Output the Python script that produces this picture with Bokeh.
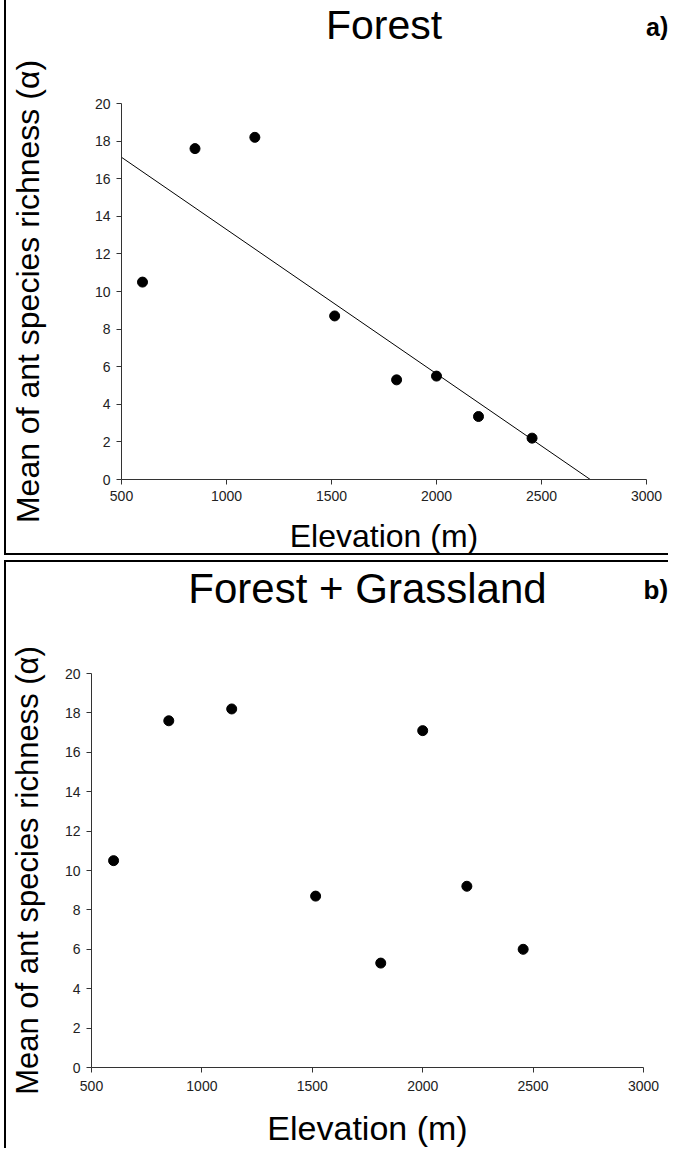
import numpy as np
from bokeh.plotting import figure
from bokeh.models import Range1d, FixedTicker, LinearAxis
from bokeh.embed import file_html
from bokeh.resources import INLINE

# ---- data ----
elevation = [600, 850, 1135, 1515, 1810, 2000, 2200, 2455]
richness_forest = [10.5, 17.6, 18.2, 8.7, 5.3, 5.5, 3.35, 2.2]
richness_forest_grass = [10.5, 17.6, 18.2, 8.7, 5.3, 17.1, 9.2, 6.0]
x_ticks = [500, 1000, 1500, 2000, 2500, 3000]
y_ticks = [0, 2, 4, 6, 8, 10, 12, 14, 16, 18, 20]
titles = ["Forest", "Forest + Grassland"]
panel_tags = ["a)", "b)"]
x_label = "Elevation (m)"
y_label = "Mean of ant species richness (\u03b1)"

FONT = "Liberation Sans"
AX = "#333333"


def make_panel(title, tag, yvals, width, height, mb, cfg, styles, fit=False):
    p = figure(width=width, height=height, output_backend="svg", toolbar_location=None,
               x_range=Range1d(500, 3000), y_range=Range1d(0, 20),
               min_border_left=mb[0], min_border_right=mb[1],
               min_border_top=mb[2], min_border_bottom=mb[3],
               styles=styles)
    p.outline_line_color = None
    p.grid.visible = False
    p.background_fill_color = "white"
    p.border_fill_color = "white"

    xa = p.below[0]
    ya = p.left[0]
    for ax in (xa, ya):
        ax.axis_line_color = AX
        ax.axis_line_width = 1
        ax.major_tick_line_color = AX
        ax.major_tick_out = 5
        ax.major_tick_in = 0
        ax.minor_tick_line_color = None
        ax.major_label_text_font = FONT
        ax.major_label_text_font_size = "14px"
        ax.major_label_text_color = "#222222"
        ax.axis_label_text_font = FONT
        ax.axis_label_text_font_style = "normal"
        ax.axis_label_text_color = "black"
    xa.ticker = FixedTicker(ticks=x_ticks)
    ya.ticker = FixedTicker(ticks=y_ticks)
    xa.axis_label = x_label
    ya.axis_label = y_label
    xa.axis_label_text_font_size = cfg["xlab_size"]
    ya.axis_label_text_font_size = cfg["ylab_size"]
    xa.major_label_standoff = cfg["xtick_standoff"]
    ya.major_label_standoff = 6
    xa.axis_label_standoff = cfg["xlab_standoff"]
    ya.axis_label_standoff = cfg["ylab_standoff"]

    # title (axis label) and panel tag (tick label) on an unlined top axis
    top = LinearAxis(ticker=FixedTicker(ticks=[3000]),
                     major_label_overrides={3000: tag},
                     axis_label=title)
    top.axis_line_color = None
    top.major_tick_line_color = None
    top.minor_tick_line_color = None
    top.major_tick_out = 0
    top.major_tick_in = 0
    top.major_label_orientation = 1e-4
    top.major_label_text_font = FONT
    top.major_label_text_font_size = cfg["tag_size"]
    top.major_label_text_font_style = "bold"
    top.major_label_text_color = "black"
    top.major_label_standoff = cfg["tag_standoff"]
    top.axis_label_text_font = FONT
    top.axis_label_text_font_size = cfg["title_size"]
    top.axis_label_text_font_style = "normal"
    top.axis_label_text_color = "black"
    top.axis_label_standoff = cfg["title_standoff"]
    p.add_layout(top, "above")

    if fit:
        slope, intercept = np.polyfit(elevation, yvals, 1)
        x0 = 500.0
        x1 = -intercept / slope
        p.line([x0, x1], [slope * x0 + intercept, 0.0], line_color="black", line_width=1)

    p.scatter(elevation, yvals, size=10, color="black")
    return p


style_top = {"border-left": "2px solid black", "border-top": "2px solid black",
             "border-bottom": "2px solid black", "margin-left": "4px",
             "margin-top": "-3px", "box-sizing": "content-box"}
style_bot = {"border-left": "2px solid black", "border-top": "2px solid black",
             "margin-left": "4px", "margin-top": "5px", "margin-bottom": "-8px",
             "box-sizing": "content-box"}

cfg1 = dict(xlab_size="32px", ylab_size="32px", xtick_standoff=6, xlab_standoff=14,
            ylab_standoff=46, tag_size="25px", tag_standoff=77,
            title_size="41px", title_standoff=-53)
cfg2 = dict(xlab_size="34px", ylab_size="31px", xtick_standoff=8, xlab_standoff=15,
            ylab_standoff=17, tag_size="26px", tag_standoff=84,
            title_size="42px", title_standoff=-56)

p1 = make_panel(titles[0], panel_tags[0], richness_forest, 662, 554,
                (115, 24, 99, 78), cfg1, style_top, fit=True)
p2 = make_panel(titles[1], panel_tags[1], richness_forest_grass, 662, 586,
                (83, 27, 107, 83), cfg2, style_bot, fit=False)

open("out.html", "w").write(file_html([p1, p2], INLINE))
